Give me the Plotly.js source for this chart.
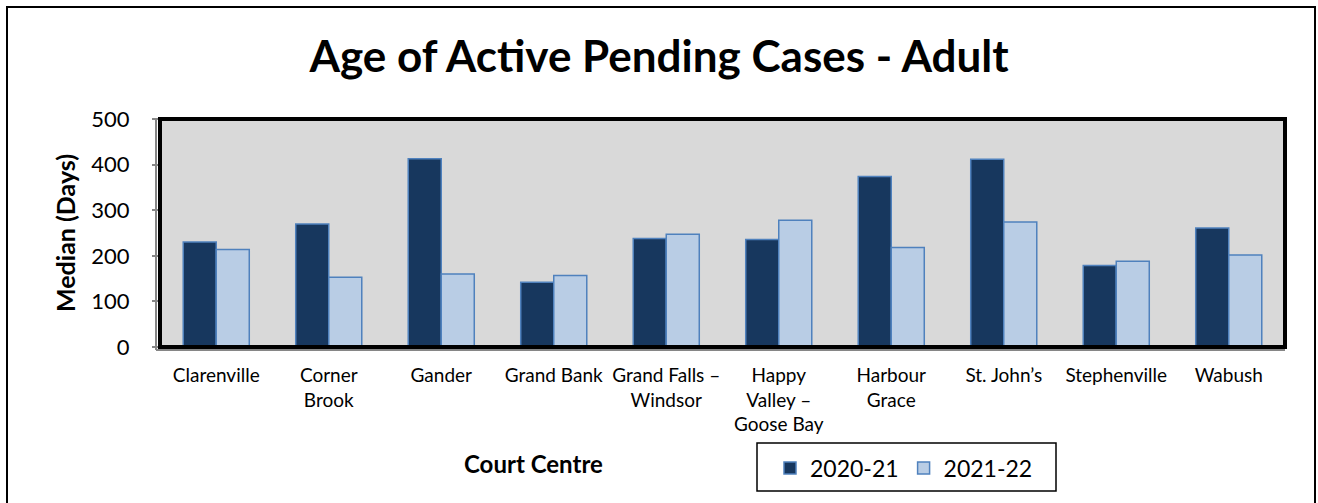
<!DOCTYPE html>
<html>
<head>
<meta charset="utf-8">
<script src="https://cdn.plot.ly/plotly-3.0.1.min.js"></script>
<style>
  html, body { margin: 0; padding: 0; background: #ffffff; }
  #chart { width: 1318px; height: 503px; }
</style>
</head>
<body>
<div id="chart"></div>
<script>
// ---- data ----
const categories = ["Clarenville", "Corner Brook", "Gander", "Grand Bank", "Grand Falls – Windsor",
  "Happy Valley – Goose Bay", "Harbour Grace", "St. John’s", "Stephenville", "Wabush"];
const tickLabels = ["Clarenville", "Corner<br>Brook", "Gander", "Grand Bank", "Grand Falls –<br>Windsor",
  "Happy<br>Valley –<br>Goose Bay", "Harbour<br>Grace", "St. John’s", "Stephenville", "Wabush"];
const series2020_21 = [230, 270, 413, 142, 238, 236, 374, 412, 179, 261];
const series2021_22 = [214, 153, 160, 157, 247, 278, 218, 274, 188, 202];
const seriesNames = ["2020-21", "2021-22"];
const chartTitle = "Age of Active Pending Cases - Adult";
const yTitle = "Median (Days)";
const xTitle = "Court Centre";

// ---- layout geometry (pixels) ----
const W = 1318, H = 503;
const L = 160, R = 1285, T = 119, B = 347;
const PW = R - L, PH = B - T;
const px = v => (v - L) / PW;      // pixel x -> paper x
const py = v => (B - v) / PH;      // pixel y -> paper y

const FONT = "Lato, 'Open Sans', sans-serif";
const edge = "#4F81BD";

const traces = [
  {
    type: "bar", name: seriesNames[0], x: categories, y: series2020_21,
    marker: { color: "#17375E", line: { color: edge, width: 1.5 } }
  },
  {
    type: "bar", name: seriesNames[1], x: categories, y: series2021_22,
    marker: { color: "#B9CDE5", line: { color: edge, width: 1.5 } }
  }
];

const layout = {
  width: W, height: H,
  margin: { l: L, r: W - R, t: T, b: H - B, pad: 0 },
  paper_bgcolor: "#ffffff",
  plot_bgcolor: "#D9D9D9",
  font: { family: FONT, color: "#000000" },
  barmode: "group",
  bargap: 0.413,
  bargroupgap: 0,
  showlegend: true,
  title: {
    text: "<b>" + chartTitle + "</b>",
    font: { family: FONT, size: 44, color: "#000000" },
    x: 0.5, xanchor: "center", xref: "container",
    y: 1 - 57 / H, yanchor: "middle", yref: "container"
  },
  xaxis: {
    type: "category",
    tickmode: "array",
    tickvals: categories,
    ticktext: tickLabels,
    tickfont: { family: FONT, size: 19, color: "#000000" },
    ticks: "",
    showgrid: false, zeroline: false, showline: false,
    ticklabelstandoff: 15,
    fixedrange: true
  },
  yaxis: {
    range: [0, 500],
    tickmode: "linear", tick0: 0, dtick: 100,
    tickfont: { family: FONT, size: 22, color: "#000000" },
    ticks: "outside", ticklen: 7, tickwidth: 2, tickcolor: "#868686",
    ticklabelstandoff: 18,
    showgrid: false, zeroline: false, showline: false,
    fixedrange: true
  },
  legend: {
    orientation: "h",
    x: px(770), xanchor: "left",
    y: py(468), yanchor: "middle",
    font: { family: FONT, size: 23, color: "#000000" },
    bgcolor: "rgba(0,0,0,0)", borderwidth: 0,
    itemclick: false, itemdoubleclick: false
  },
  annotations: [
    {
      text: "<b>" + yTitle + "</b>", textangle: -90,
      xref: "paper", yref: "paper", x: px(65), y: py(233),
      xanchor: "center", yanchor: "middle", showarrow: false,
      font: { family: FONT, size: 25, color: "#000000" }
    },
    {
      text: "<b>" + xTitle + "</b>",
      xref: "paper", yref: "paper", x: px(533), y: py(463),
      xanchor: "center", yanchor: "middle", showarrow: false,
      font: { family: FONT, size: 24, color: "#000000" }
    }
  ],
  shapes: [
    // outer chart border
    { type: "rect", xref: "paper", yref: "paper", x0: px(7), x1: px(1315), y0: py(512), y1: py(7),
      line: { color: "#000000", width: 2 }, fillcolor: "rgba(0,0,0,0)", layer: "below" },
    // grey axis lines
    { type: "line", xref: "paper", yref: "paper", x0: px(156), x1: px(156), y0: py(350), y1: py(T),
      line: { color: "#868686", width: 2 } },
    { type: "line", xref: "paper", yref: "paper", x0: px(156), x1: px(R), y0: py(350), y1: py(350),
      line: { color: "#868686", width: 2 } },
    // thick black plot frame
    { type: "rect", xref: "paper", yref: "paper", x0: 0, x1: 1, y0: 0, y1: 1,
      line: { color: "#000000", width: 4 }, fillcolor: "rgba(0,0,0,0)" },
    // legend box
    { type: "rect", xref: "paper", yref: "paper", x0: px(757), x1: px(1056), y0: py(491), y1: py(443),
      line: { color: "#000000", width: 1.5 }, fillcolor: "#ffffff", layer: "below" }
  ]
};

Plotly.newPlot("chart", traces, layout, { displayModeBar: false, staticPlot: true });
</script>
</body>
</html>
